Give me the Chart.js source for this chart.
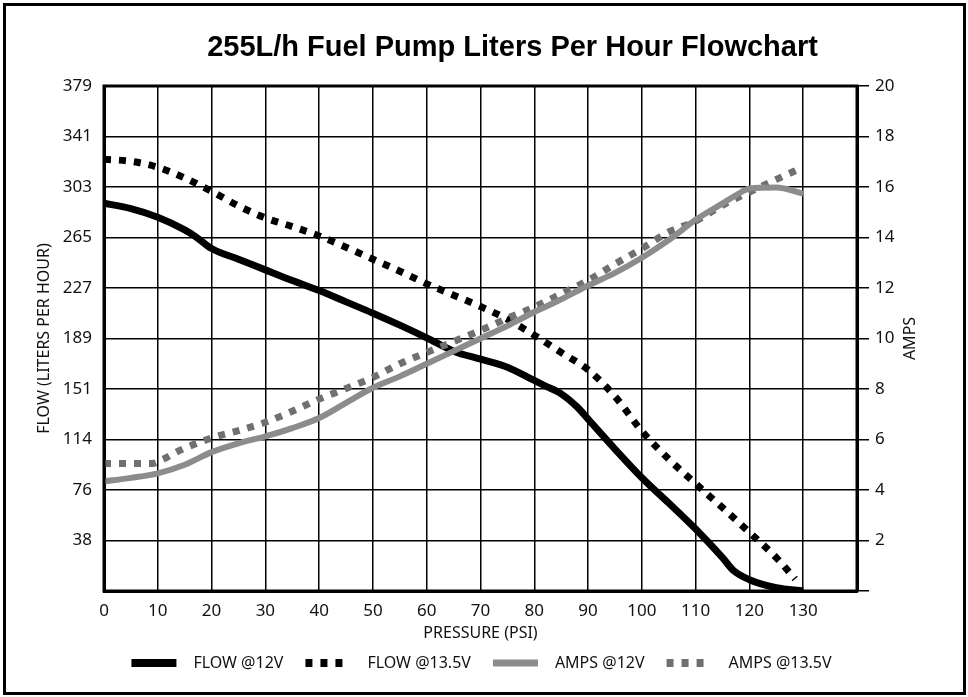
<!DOCTYPE html>
<html><head><meta charset="utf-8">
<script src="https://cdn.jsdelivr.net/npm/chart.js@4/dist/chart.umd.min.js"></script>
<style>html,body{margin:0;padding:0;background:#fff;overflow:hidden}</style>
</head><body>
<canvas id="c" width="968" height="697"></canvas>
<script>
const chartTitle = '255L/h Fuel Pump Liters Per Hour Flowchart';
const xTitle = 'PRESSURE (PSI)';
const yLeftTitle = 'FLOW (LITERS PER HOUR)';
const yRightTitle = 'AMPS';
const seriesNames = ['FLOW @12V', 'FLOW @13.5V', 'AMPS @12V', 'AMPS @13.5V'];
const flowTickValues = [0, 37.9, 75.8, 113.7, 151.6, 189.5, 227.4, 265.3, 303.2, 341.1, 379];
const flowTickLabels = ['', '38', '76', '114', '151', '189', '227', '265', '303', '341', '379'];

const flow12Psi = [0, 5, 10, 15, 17, 20, 25, 30, 35, 40, 45, 50, 55, 60, 65, 70, 75, 80, 82, 85, 88, 90, 95, 100, 105, 110, 115, 117, 120, 125, 130];
const flow12Lph = [291, 287, 280.5, 271, 266, 257, 249, 241, 233, 225.5, 217, 208.5, 199.5, 190, 180, 174, 168, 158, 154, 148, 138, 129, 106.5, 85, 66, 46.5, 25, 15.5, 8.5, 2.5, 0];

const flow135Psi = [0, 5, 10, 15, 20, 25, 30, 35, 40, 45, 50, 55, 60, 65, 70, 75, 80, 85, 90, 95, 100, 105, 110, 115, 120, 125, 128.5];
const flow135Lph = [324, 322.5, 318, 310, 300, 289, 280, 273.5, 266.5, 258, 249, 240, 230.5, 222, 213.5, 204, 192, 179, 166, 146, 120, 99, 80.5, 62.5, 44, 25, 9];

const amps12Psi = [0, 5, 10, 15, 20, 25, 30, 35, 40, 45, 50, 55, 60, 65, 70, 75, 80, 85, 90, 95, 100, 105, 110, 115, 118, 120, 125, 130];
const amps12 = [4.34, 4.48, 4.66, 5.0, 5.5, 5.85, 6.12, 6.45, 6.85, 7.45, 8.05, 8.5, 9.0, 9.5, 10.0, 10.5, 11.05, 11.55, 12.1, 12.6, 13.2, 13.9, 14.7, 15.35, 15.74, 15.94, 15.98, 15.74];

const amps135Psi = [0, 5, 9, 11, 14, 20, 25, 30, 35, 40, 45, 50, 55, 60, 65, 70, 75, 80, 85, 90, 95, 100, 105, 110, 115, 118, 122, 125, 129.8];
const amps135 = [5.05, 5.05, 5.05, 5.22, 5.56, 6.06, 6.35, 6.68, 7.12, 7.6, 8.02, 8.46, 9.0, 9.45, 9.88, 10.32, 10.8, 11.25, 11.77, 12.3, 12.95, 13.56, 14.22, 14.65, 15.28, 15.6, 16.0, 16.3, 16.77];

const pts = (xs, ys) => xs.map((x, i) => ({x: x, y: ys[i]}));
const FONT = "'Noto Sans', 'DejaVu Sans', sans-serif";

const styles = [
  {color: '#000', width: 7, dash: []},
  {color: '#000', width: 7, dash: [7, 8]},
  {color: '#8c8c8c', width: 6, dash: []},
  {color: '#707070', width: 7, dash: [7, 8]}
];

function legendSample(st) {
  const cv = document.createElement('canvas');
  cv.width = 64; cv.height = 10;
  const g = cv.getContext('2d');
  g.strokeStyle = st.color;
  g.lineWidth = st.width + 1;
  g.setLineDash(st.dash);
  g.beginPath();
  g.moveTo(10, 5);
  g.lineTo(55, 5);
  g.stroke();
  return cv;
}
const legendSamples = styles.map(legendSample);

const framePlugin = {
  id: 'frame',
  beforeDraw(chart) {
    const ctx = chart.ctx;
    ctx.save();
    ctx.fillStyle = '#fff';
    ctx.fillRect(0, 0, chart.width, chart.height);
    ctx.restore();
  },
  afterDraw(chart) {
    const ctx = chart.ctx, a = chart.chartArea;
    ctx.save();
    ctx.strokeStyle = '#000';
    ctx.lineWidth = 3;
    ctx.strokeRect(a.left, a.top, a.right - a.left, a.bottom - a.top);
    ctx.strokeRect(4.5, 4.5, chart.width - 8, chart.height - 8);
    ctx.fillStyle = '#000';
    ctx.font = "bold 29px 'Liberation Sans', Arial, sans-serif";
    ctx.textAlign = 'center';
    ctx.textBaseline = 'middle';
    ctx.fillText(chartTitle, (a.left + a.right) / 2 + 32, 48);
    ctx.font = "16px " + FONT;
    ctx.translate(910, (a.top + a.bottom) / 2);
    ctx.rotate(-Math.PI / 2);
    ctx.fillStyle = '#111';
    ctx.fillText(yRightTitle, 0, 0);
    ctx.restore();
  }
};

const ds = (i, xs, ys, axis, order) => ({
  label: seriesNames[i], data: pts(xs, ys), yAxisID: axis,
  borderColor: styles[i].color, backgroundColor: styles[i].color,
  borderWidth: styles[i].width, borderDash: styles[i].dash, order: order
});

new Chart(document.getElementById('c'), {
  type: 'line',
  data: {
    datasets: [
      ds(0, flow12Psi, flow12Lph, 'y', 2),
      ds(1, flow135Psi, flow135Lph, 'y', 2),
      ds(2, amps12Psi, amps12, 'y1', 1),
      ds(3, amps135Psi, amps135, 'y1', 1)
    ]
  },
  options: {
    responsive: false,
    animation: false,
    devicePixelRatio: 1,
    elements: {
      point: {radius: 0, hoverRadius: 0},
      line: {cubicInterpolationMode: 'monotone', borderCapStyle: 'butt', borderJoinStyle: 'round'}
    },
    layout: {padding: {top: 86, left: 35, right: 50, bottom: 16}},
    plugins: {
      title: {display: false},
      tooltip: {enabled: false},
      legend: {
        position: 'bottom',
        labels: {
          usePointStyle: true,
          pointStyleWidth: 64,
          color: '#111',
          font: {family: FONT, size: 16},
          padding: 12,
          sort: (a, b) => a.datasetIndex - b.datasetIndex,
          generateLabels: chart => {
            const items = Chart.defaults.plugins.legend.labels.generateLabels(chart);
            items.forEach(it => { it.pointStyle = legendSamples[it.datasetIndex]; });
            return items;
          }
        }
      }
    },
    scales: {
      x: {
        type: 'linear', min: 0, max: 140,
        afterFit: s => { s.height = 52; },
        ticks: {stepSize: 10, padding: 10, color: '#111', font: {family: FONT, size: 17}, maxRotation: 0,
                callback: v => (v === 140 ? '' : v)},
        grid: {color: '#000', lineWidth: 1.5, drawTicks: false},
        border: {color: '#000', width: 3},
        title: {display: true, text: xTitle, color: '#111', font: {family: FONT, size: 16}, padding: 0}
      },
      y: {
        type: 'linear', position: 'left', min: 0, max: 379,
        afterFit: s => { s.width = 69; },
        afterBuildTicks: s => { s.ticks = flowTickValues.map(v => ({value: v})); },
        ticks: {padding: 12, color: '#111', font: {family: FONT, size: 17},
                callback: (v, i) => flowTickLabels[i]},
        grid: {color: '#000', lineWidth: 1.5, drawTicks: false},
        border: {color: '#000', width: 3},
        title: {display: true, text: yLeftTitle, color: '#111', font: {family: FONT, size: 16}, padding: 0}
      },
      y1: {
        type: 'linear', position: 'right', min: 0, max: 20,
        afterFit: s => { s.width = 61; },
        ticks: {stepSize: 2, padding: 6, color: '#111', font: {family: FONT, size: 17},
                callback: v => (v === 0 ? '' : v)},
        grid: {drawOnChartArea: false, drawTicks: true, tickLength: 12, color: '#000', lineWidth: 1.5},
        border: {color: '#000', width: 3}
      }
    }
  },
  plugins: [framePlugin]
});
</script>
</body></html>
